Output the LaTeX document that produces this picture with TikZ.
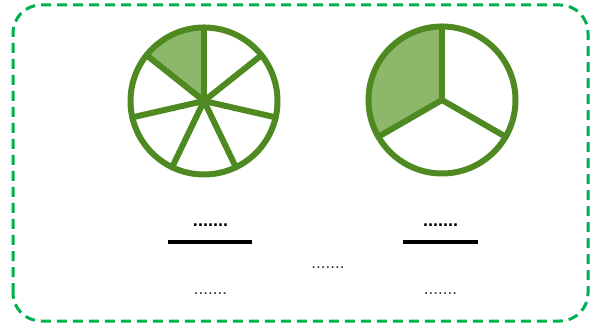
\documentclass[tikz,border=0pt]{standalone}
\usepackage{fontspec}
\setmainfont{Liberation Sans}
\definecolor{pieline}{HTML}{4E8A21}
\definecolor{piefill}{HTML}{8DB86A}
\definecolor{framegreen}{HTML}{00B050}
\begin{document}
\begin{tikzpicture}[x=1pt,y=1pt,
  pieedge/.style={draw=pieline, line width=6pt, line cap=round, line join=round},
  topdots/.style={font=\fontsize{18}{18}\selectfont\bfseries, inner sep=0pt},
  botdots/.style={font=\fontsize{17}{17}\selectfont, text=black!80, inner sep=0pt},
  fracbar/.style={line width=4pt, black}]
\useasboundingbox (0,0) rectangle (600,327);
\draw[framegreen, line width=3pt, dash pattern=on 10pt off 6pt, rounded corners=28pt] (13,6) rectangle (588,322);
% left pie: sevenths
\coordinate (cA) at (204,226);
\fill[piefill] (cA) -- ++(90:73.5) arc[start angle=90, end angle=141.43, radius=73.5] -- cycle;
\foreach \k in {0,...,6}{
  \draw[pieedge] (cA) -- ++({90-\k*360/7}:73.5);
}
\draw[pieedge] (cA) circle[radius=73.5];
% right pie: thirds
\coordinate (cB) at (442,227);
\fill[piefill] (cB) -- ++(90:73.5) arc[start angle=90, end angle=210, radius=73.5] -- cycle;
\foreach \a in {90,-30,210}{
  \draw[pieedge] (cB) -- ++(\a:73.5);
}
\draw[pieedge] (cB) circle[radius=73.5];
% fractions
\node[topdots] (nA) at (210.5,102) {.......};
\draw[fracbar] (168,85) -- (252,85);
\node[botdots] (dA) at (210.5,33) {.......};
\node[botdots] (mid) at (328,59) {.......};
\node[topdots] (nB) at (440.5,102) {.......};
\draw[fracbar] (403,85) -- (478,85);
\node[botdots] (dB) at (440.5,33) {.......};
\end{tikzpicture}
\end{document}
